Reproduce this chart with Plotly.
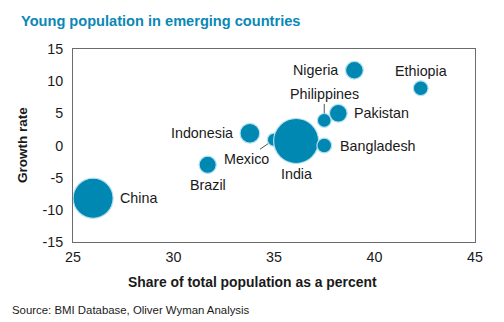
import plotly.graph_objects as go

countries = ["China", "Brazil", "Mexico", "Indonesia", "India", "Bangladesh",
             "Philippines", "Pakistan", "Nigeria", "Ethiopia"]
share = [26.0, 31.7, 35.0, 33.8, 36.1, 37.5, 37.5, 38.2, 39.0, 42.3]
growth = [-8.2, -3.0, 0.9, 1.9, 0.7, 0.0, 3.9, 5.0, 11.7, 8.9]
young_pop = [412, 76, 45, 100, 520, 56, 49, 81, 81, 56]

x_ticks = [25, 30, 35, 40, 45]
x_tick_labels = ["25", "30", "35", "40", "45"]
y_ticks = [-15, -10, -5, 0, 5, 10, 15]
y_tick_labels = ["-15", "-10", "-5", "0", "5", "10", "15"]

BLUE = "#0088b3"
FONT = "Liberation Sans, Arial, sans-serif"

fig = go.Figure()
fig.add_trace(go.Scatter(
    x=share, y=growth, mode="markers",
    marker=dict(size=young_pop, sizemode="area",
                sizeref=2.0 * max(young_pop) / (45.0 ** 2),
                color=BLUE, opacity=1,
                line=dict(color="#b5e1ee", width=1.2)),
    hoverinfo="text", text=countries, showlegend=False,
))

placement = {
    "China": dict(xanchor="left", xshift=25, yshift=0),
    "Brazil": dict(xanchor="center", xshift=0, yshift=-20),
    "Indonesia": dict(xanchor="right", xshift=-15, yshift=0),
    "India": dict(xanchor="center", xshift=0, yshift=-33),
    "Bangladesh": dict(xanchor="left", xshift=14, yshift=0),
    "Pakistan": dict(xanchor="left", xshift=14, yshift=0),
    "Nigeria": dict(xanchor="right", xshift=-14, yshift=0),
    "Ethiopia": dict(xanchor="center", xshift=0, yshift=17),
}
arrows = {
    "Mexico": dict(ax=-28, ay=19, standoff=7),
    "Philippines": dict(ax=0, ay=-26, standoff=7),
}

LABEL_FONT = dict(family=FONT, size=14.3, color="#1a1a1a")
annotations = []
for c, xv, yv in zip(countries, share, growth):
    if c in placement:
        p = placement[c]
        annotations.append(dict(x=xv, y=yv, xref="x", yref="y", text=c,
                                showarrow=False, xanchor=p["xanchor"],
                                yanchor="middle", xshift=p["xshift"],
                                yshift=p["yshift"], font=LABEL_FONT))
    else:
        a = arrows[c]
        annotations.append(dict(x=xv, y=yv, xref="x", yref="y", text=c,
                                showarrow=True, arrowhead=0, arrowwidth=1,
                                arrowcolor="#555555", ax=a["ax"], ay=a["ay"],
                                standoff=a["standoff"], font=LABEL_FONT))

PW, PH, L, T = 402, 193, 73, 49

def px(xp):
    return (xp - L) / PW

def py(yp):
    return 1 - (yp - T) / PH

annotations += [
    dict(text="<b>Young population in emerging countries</b>",
         xref="paper", yref="paper", x=px(19), y=py(21),
         xanchor="left", yanchor="middle", showarrow=False,
         font=dict(family=FONT, size=14.6, color="#0a88b5")),
    dict(text="<b>Share of total population as a percent</b>",
         xref="paper", yref="paper", x=px(252), y=py(282),
         xanchor="center", yanchor="middle", showarrow=False,
         font=dict(family=FONT, size=13.9, color="#1a1a1a")),
    dict(text="<b>Growth rate</b>", textangle=-90,
         xref="paper", yref="paper", x=px(22), y=py(145),
         xanchor="center", yanchor="middle", showarrow=False,
         font=dict(family=FONT, size=13.5, color="#1a1a1a")),
    dict(text="Source: BMI Database, Oliver Wyman Analysis",
         xref="paper", yref="paper", x=px(10), y=py(310),
         xanchor="left", yanchor="middle", showarrow=False,
         font=dict(family=FONT, size=11.4, color="#1a1a1a")),
]

fig.update_layout(
    width=504, height=322,
    margin=dict(l=L, r=504 - L - PW, t=T, b=322 - T - PH),
    paper_bgcolor="white", plot_bgcolor="white",
    font=dict(family=FONT, size=14, color="#1a1a1a"),
    xaxis=dict(range=[25, 45], tickvals=x_ticks, ticktext=x_tick_labels,
               showgrid=False, zeroline=False,
               showline=True, mirror=True, linecolor="#6b6b6b", linewidth=1,
               ticks="", ticklabelstandoff=2,
               tickfont=dict(size=14.3, color="#1a1a1a")),
    yaxis=dict(range=[-15, 15], tickvals=y_ticks, ticktext=y_tick_labels,
               showgrid=False, zeroline=False,
               showline=True, mirror=True, linecolor="#6b6b6b", linewidth=1,
               ticks="", ticklabelstandoff=6,
               tickfont=dict(size=14.3, color="#1a1a1a")),
    annotations=annotations,
)

fig.write_html("out.html")
